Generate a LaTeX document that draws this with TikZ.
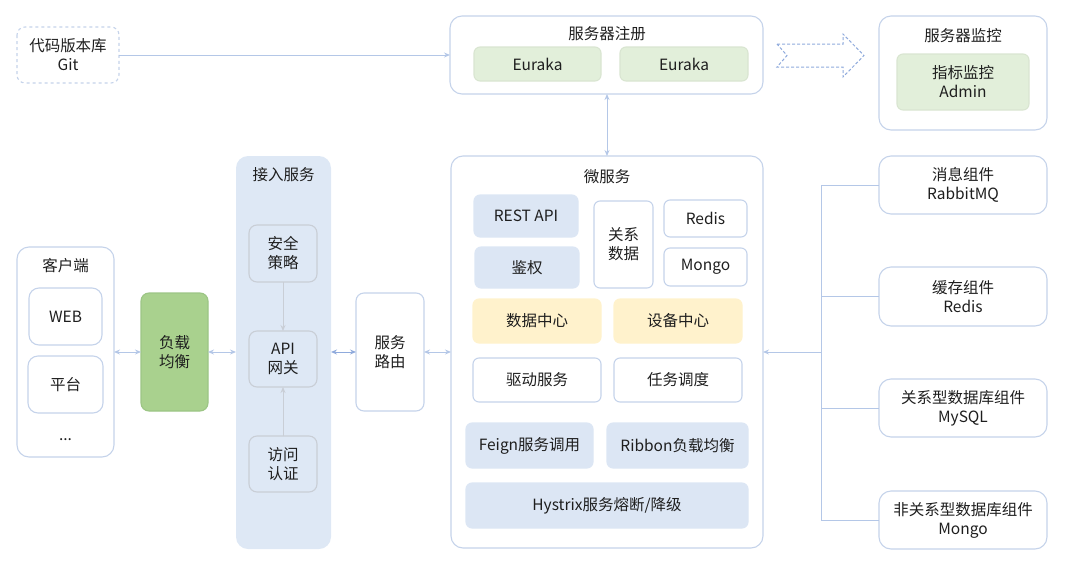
\documentclass[tikz,border=0pt]{standalone}
\usepackage{fontspec}
\setmainfont{Noto Sans CJK SC}
\usetikzlibrary{arrows.meta}
\definecolor{lineblue}{HTML}{B4C7E7}
\definecolor{boxline}{HTML}{C5D3EA}
\definecolor{panelblue}{HTML}{DEE8F5}
\definecolor{lightblue}{HTML}{DCE6F4}
\definecolor{eugreen}{HTML}{E2EFDA}
\definecolor{lbgreen}{HTML}{A9D18E}
\definecolor{lbgreenline}{HTML}{9CC585}
\definecolor{ylw}{HTML}{FFF2CC}
\definecolor{grayline}{HTML}{C9CED6}
\definecolor{darkarrow}{HTML}{8FAADC}
\definecolor{txt}{HTML}{1E1E1E}
\tikzset{
  x=1pt,y=-1pt,
  every node/.style={text=txt,font=\fontsize{15.5}{19}\selectfont,align=center,inner sep=0pt},
  rbox/.style={draw=boxline,line width=1.1pt,rounded corners=6pt},
  big/.style={draw=boxline,line width=1.1pt,rounded corners=12pt},
  conn/.style={draw=lineblue,line width=1pt},
  tip/.style={-{Stealth[length=6pt,width=5pt]}},
  dtip/.style={{Stealth[length=6pt,width=5pt]}-{Stealth[length=6pt,width=5pt]}},
}
\begin{document}
\begin{tikzpicture}
\useasboundingbox (0,0) rectangle (1080,579);
% --- Git
\draw[rbox,dashed,rounded corners=8pt] (17,27) rectangle (119,83);
\node (git) at (68,55) {代码版本库\\Git};
\coordinate (gitR) at (119,55);
% --- registry
\draw[big] (450,16) rectangle (763,94);
\node (reg) at (607,34) {服务器注册};
\coordinate (regL) at (450,55);
\coordinate (regB) at (607,94);
\draw[rbox,fill=eugreen,draw=eugreen!80!black!20!eugreen] (474,47) rectangle (601,81);
\node (eu1) at (537.5,64) {Euraka};
\draw[rbox,fill=eugreen,draw=eugreen!80!black!20!eugreen] (620,47) rectangle (748,81);
\node (eu2) at (684,64) {Euraka};
\draw[conn,tip,draw=lineblue] (gitR) -- (regL);
% --- hollow dashed arrow
\draw[draw=darkarrow,line width=1pt,dash pattern=on 3pt off 2pt]
  (777,44) -- (843,44) -- (843,34) -- (864,55.5) -- (843,77) -- (843,67) -- (777,67) -- (787,55.5) -- cycle;
% --- monitor
\draw[big] (879,16) rectangle (1047,130);
\node (mon) at (963,36) {服务器监控};
\draw[rbox,fill=eugreen,draw=eugreen!80!black!20!eugreen] (897,54) rectangle (1029,110);
\node (adm) at (963,82) {指标监控\\Admin};
% --- micro services
\draw[big] (451,156) rectangle (763,548);
\node (ms) at (607,177) {微服务};
\coordinate (msT) at (607,156);
\coordinate (msL) at (451,352);
\coordinate (msR) at (763,352);
\draw[conn,dtip] (regB) -- (msT);
\draw[rbox,fill=lightblue,draw=lightblue] (474,195) rectangle (578,237);
\node (rest) at (526,216) {REST API};
\draw[rbox,fill=lightblue,draw=lightblue] (475,247) rectangle (579,288);
\node (auth) at (527,267.5) {鉴权};
\draw[rbox] (594,201) rectangle (653,288);
\node (rel) at (623.5,244.5) {关系\\数据};
\draw[rbox] (664,200) rectangle (747,237);
\node (redis1) at (705.5,218.5) {Redis};
\draw[rbox] (664,248) rectangle (747,286);
\node (mongo1) at (705.5,267) {Mongo};
\draw[rbox,fill=ylw,draw=ylw] (473,299) rectangle (601,343);
\node (dc) at (537,321) {数据中心};
\draw[rbox,fill=ylw,draw=ylw] (614,299) rectangle (742,343);
\node (devc) at (678,321) {设备中心};
\draw[rbox] (473,358) rectangle (601,402);
\node (drv) at (537,380) {驱动服务};
\draw[rbox] (614,358) rectangle (742,402);
\node (task) at (678,380) {任务调度};
\draw[rbox,fill=lightblue,draw=lightblue] (466,423) rectangle (593,468);
\node (feign) at (529.5,445.5) {Feign服务调用};
\draw[rbox,fill=lightblue,draw=lightblue] (607,423) rectangle (748,468);
\node (ribbon) at (677.5,445.5) {Ribbon负载均衡};
\draw[rbox,fill=lightblue,draw=lightblue] (466,483) rectangle (748,528);
\node (hys) at (607,505.5) {Hystrix服务熔断/降级};
% --- client
\draw[big] (17,247) rectangle (114,457);
\node (cli) at (65.5,266) {客户端};
\coordinate (cliR) at (114,352);
\draw[big,rounded corners=10pt] (29,288) rectangle (102,345);
\node (web) at (65.5,316.5) {WEB};
\draw[big,rounded corners=10pt] (28,356) rectangle (103,413);
\node (plat) at (65.5,384.5) {平台};
\node (dots) at (65.5,440) {...};
% --- load balancer
\draw[rbox,fill=lbgreen,draw=lbgreenline,rounded corners=8pt] (141,293) rectangle (208,411);
\node (lb) at (174.5,352) {负载\\均衡};
\coordinate (lbL) at (141,352);
\coordinate (lbR) at (208,352);
% --- access panel
\draw[fill=panelblue,draw=none,rounded corners=12pt] (236,156) rectangle (331,549);
\node (acc) at (283.5,175) {接入服务};
\coordinate (accL) at (236,352);
\coordinate (accR) at (331,352);
\draw[rbox,draw=grayline,fill=panelblue,rounded corners=8pt] (249,225) rectangle (317,282);
\node (sec) at (283,253.5) {安全\\策略};
\draw[rbox,draw=grayline,fill=panelblue,rounded corners=8pt] (249,331) rectangle (317,387);
\node (api) at (283,359) {API\\网关};
\draw[rbox,draw=grayline,fill=panelblue,rounded corners=8pt] (249,436) rectangle (317,492);
\node (vis) at (283,464) {访问\\认证};
\draw[draw=grayline,line width=1pt,tip] (283,282) -- (283,331);
\draw[draw=grayline,line width=1pt,tip] (283,436) -- (283,387);
% --- routing
\draw[rbox,rounded corners=8pt] (356,293) rectangle (424,411);
\node (route) at (390,352) {服务\\路由};
\coordinate (rtL) at (356,352);
\coordinate (rtR) at (424,352);
% --- horizontal double arrows
\draw[conn,dtip] (cliR) -- (lbL);
\draw[conn,dtip] (lbR) -- (accL);
\draw[conn,dtip,draw=darkarrow] (accR) -- (rtL);
\draw[conn,dtip] (rtR) -- (msL);
% --- components
\draw[big] (879,156) rectangle (1047,214);
\node (mq) at (963,185) {消息组件\\RabbitMQ};
\draw[big] (879,267) rectangle (1047,326);
\node (cache) at (963,296.5) {缓存组件\\Redis};
\draw[big] (879,379) rectangle (1047,437);
\node (sql) at (963,408) {关系型数据库组件\\MySQL};
\draw[big] (879,491) rectangle (1047,549);
\node (nosql) at (963,520) {非关系型数据库组件\\Mongo};
\coordinate (trT) at (821,185);
\coordinate (trB) at (821,520);
\coordinate (trM) at (821,352);
\draw[conn] (879,185) -- (trT) -- (trB) -- (879,520);
\draw[conn] (821,296.5) -- (879,296.5);
\draw[conn] (821,408) -- (879,408);
\draw[conn,tip] (trM) -- (msR);
\end{tikzpicture}
\end{document}
